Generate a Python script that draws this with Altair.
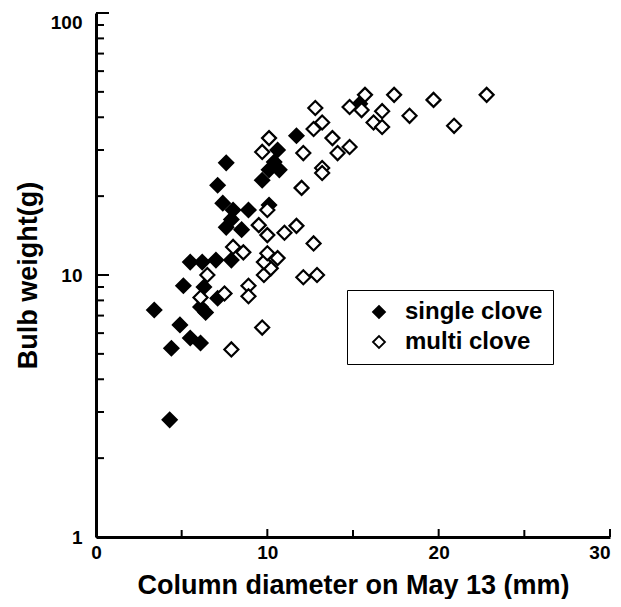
import altair as alt
import pandas as pd

# single clove (filled diamonds)
single_x = [3.4, 4.3, 4.4, 4.9, 5.1, 5.5, 6.1, 6.3, 6.1, 6.4, 7.1, 5.5, 6.2, 7.0, 7.9,
            7.6, 8.5, 7.4, 7.9, 8.0, 8.9, 7.1, 7.6, 10.1, 9.7, 10.1, 10.4, 10.7, 10.6, 11.7, 15.4]
single_y = [7.35, 2.8, 5.25, 6.45, 9.1, 5.75, 5.5, 9.0, 7.55, 7.2, 8.15, 11.2, 11.2, 11.4, 11.4,
            15.2, 14.9, 18.8, 16.3, 17.7, 17.7, 22.0, 26.8, 18.5, 23.0, 25.2, 27.0, 25.2, 30.0, 34.0, 45.0]

# multi clove (open diamonds)
multi_x = [6.5, 6.1, 7.5, 8.9, 8.9, 9.7, 7.9, 9.8, 10.2, 9.8, 10.6, 10.0, 8.0, 8.6,
           10.0, 9.5, 11.0, 11.7, 12.7, 12.1, 12.9, 10.0, 12.0, 13.2, 13.2, 9.7, 10.1,
           12.1, 14.1, 14.8, 13.8, 12.7, 13.2, 12.8, 14.8, 15.5, 15.7, 16.2, 16.7, 16.7,
           17.4, 18.3, 19.7, 20.9, 22.8]
multi_y = [10.0, 8.2, 8.5, 9.1, 8.3, 6.3, 5.2, 10.0, 10.6, 11.2, 11.6, 12.1, 12.8, 12.2,
           14.2, 15.5, 14.5, 15.4, 13.2, 9.8, 10.0, 17.7, 21.5, 25.6, 24.5, 29.5, 33.3,
           29.2, 29.2, 30.8, 33.3, 36.1, 38.2, 43.4, 43.8, 42.6, 48.7, 38.2, 42.2, 36.7,
           48.7, 40.5, 46.6, 37.1, 48.7]

categories = ["single clove", "multi clove"]
x_major = [0, 10, 20, 30]
x_minor = [5, 15, 25]
y_major = [1, 10, 100]
y_minor = [2, 3, 4, 5, 6, 7, 8, 9, 20, 30, 40, 50, 60, 70, 80, 90]

W, H = 514, 524
FONT = "Liberation Sans"

pts = pd.DataFrame({
    "diam": single_x + multi_x,
    "weight": single_y + multi_y,
    "type": [categories[0]] * len(single_x) + [categories[1]] * len(multi_x),
})

xs = alt.Scale(domain=[0, 30], nice=False, zero=False)
ys = alt.Scale(type="log", domain=[1, 100], nice=False)

points = alt.Chart(pts).mark_point(
    shape="diamond", filled=True, stroke="black", strokeWidth=2.2, size=196, opacity=1
).encode(
    x=alt.X("diam:Q", scale=xs, title="Column diameter on May 13 (mm)",
            axis=alt.Axis(values=x_major, ticks=False, grid=False, domainWidth=3,
                          domainColor="black", labelPadding=6, format="d",
                          labelAlign={"condition": {"test": "datum.value >= 30", "value": "right"},
                                      "value": "center"},
                          titleFontSize=27, titleY=56, titleBaseline="alphabetic")),
    y=alt.Y("weight:Q", scale=ys, title="Bulb weight(g)",
            axis=alt.Axis(values=y_major, ticks=False, grid=False, domainWidth=3,
                          domainColor="black", labelPadding=14, titlePadding=8,
                          format="d", titleFontSize=27,
                          labelBaseline={"condition": {"test": "datum.value >= 100", "value": "top"},
                                         "value": "middle"})),
    fill=alt.Fill("type:N", scale=alt.Scale(domain=categories, range=["black", "white"]),
                  legend=alt.Legend(title=None, orient="none", legendX=251, legendY=277,
                                    strokeColor="black", padding=10, symbolOffset=10,
                                    labelFont=FONT, labelFontSize=24, labelFontWeight="bold",
                                    labelColor="black", symbolType="diamond", symbolSize=144,
                                    symbolStrokeColor="black", symbolStrokeWidth=1.8,
                                    labelOffset=14, rowPadding=6, labelLimit=300)),
)

ymaj = alt.Chart(pd.DataFrame({"weight": y_major})).mark_rule(color="black", strokeWidth=2).encode(
    y=alt.Y("weight:Q", scale=ys), x=alt.value(0), x2=alt.value(13))
ymin = alt.Chart(pd.DataFrame({"weight": y_minor})).mark_rule(color="black", strokeWidth=2).encode(
    y=alt.Y("weight:Q", scale=ys), x=alt.value(0), x2=alt.value(8))
xmaj = alt.Chart(pd.DataFrame({"diam": x_major})).mark_rule(color="black", strokeWidth=2).encode(
    x=alt.X("diam:Q", scale=xs), y=alt.value(H), y2=alt.value(H - 8))
xmin = alt.Chart(pd.DataFrame({"diam": x_minor})).mark_rule(color="black", strokeWidth=2).encode(
    x=alt.X("diam:Q", scale=xs), y=alt.value(H), y2=alt.value(H - 7))

chart = alt.layer(points, ymaj, ymin, xmaj, xmin).properties(
    width=W, height=H,
    autosize=alt.AutoSizeParams(type="none"),
    padding={"left": 88, "top": 5, "right": 3, "bottom": 62},
).configure_view(stroke=None).configure_axis(
    labelFont=FONT, labelFontSize=19, labelFontWeight="bold", labelColor="black",
    titleFont=FONT, titleFontWeight="bold", titleColor="black",
)

chart.save("out.html", embed_options={"renderer": "svg", "actions": False})
